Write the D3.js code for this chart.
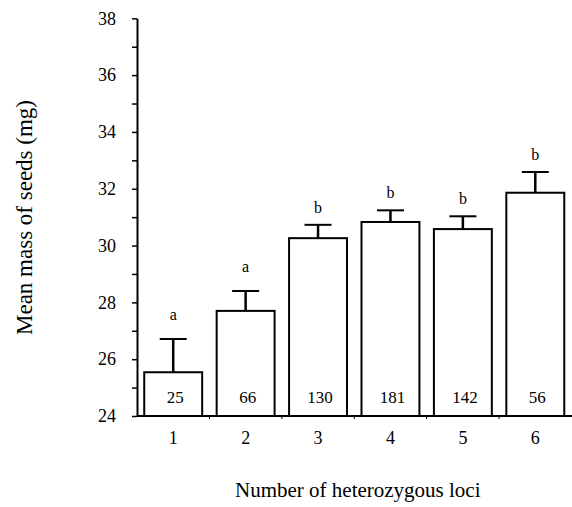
<!DOCTYPE html>
<html>
<head>
<meta charset="utf-8">
<script src="https://cdn.jsdelivr.net/npm/d3@7"></script>
<style>
  body { margin: 0; background: #fff; }
  svg text { font-family: "Liberation Serif", "Times New Roman", serif; fill: #000; }
</style>
</head>
<body>
<div id="chart"></div>
<script>
"use strict";

// number of heterozygous loci
var categories = ["1", "2", "3", "4", "5", "6"];
// mean seed mass (mg) and upper error bar length
var means = [25.54, 27.70, 30.26, 30.83, 30.58, 31.86];
var errors = [1.17, 0.70, 0.47, 0.41, 0.45, 0.73];
// sample sizes printed in bars
var counts = [25, 66, 130, 181, 142, 56];
// significance groups
var groups = ["a", "a", "b", "b", "b", "b"];
var yTicks = d3.range(24, 39, 1);

var width = 572;
var height = 507;
var plotLeft = 137, plotRight = 571.5, plotTop = 18.3, plotBottom = 416;
var letterGap = { "a": 19, "b": 12 };

var data = categories.map(function (c, i) {
  return { cat: c, mean: means[i], err: errors[i], n: counts[i], grp: groups[i] };
});

var svg = d3.select("#chart").append("svg")
  .attr("width", width)
  .attr("height", height);

var x = d3.scaleBand().domain(categories).range([plotLeft, plotRight]).paddingInner(0.2).paddingOuter(0.1);
var y = d3.scaleLinear().domain([24, 38]).range([plotBottom, plotTop]);

// y axis
var gY = svg.append("g")
  .attr("transform", "translate(" + plotLeft + ",0)")
  .call(d3.axisLeft(y).tickValues(yTicks).tickSize(5).tickSizeOuter(0).tickPadding(16)
    .tickFormat(function (d) { return d % 2 === 0 ? d : ""; }));
gY.select(".domain").attr("stroke", "#000").attr("stroke-width", 2);
gY.selectAll(".tick line").attr("stroke", "#000").attr("stroke-width", 1.5);
gY.selectAll(".tick text").style("font-size", "18px").style("font-family", "Liberation Serif, serif");

// x axis labels (no tick marks under bars)
var gX = svg.append("g")
  .attr("transform", "translate(0," + plotBottom + ")")
  .call(d3.axisBottom(x).tickSize(0).tickPadding(15));
gX.select(".domain").remove();
gX.selectAll(".tick text").style("font-size", "18px").style("font-family", "Liberation Serif, serif");

// small marks between bars
var bounds = categories.slice(1).map(function (c) { return x(c) - x.step() * x.paddingInner() / 2; });
svg.selectAll(".sep").data(bounds).enter().append("line")
  .attr("class", "sep")
  .attr("x1", function (d) { return d; }).attr("x2", function (d) { return d; })
  .attr("y1", plotBottom).attr("y2", plotBottom + 3)
  .attr("stroke", "#000").attr("stroke-width", 1);

// bars
svg.selectAll(".bar").data(data).enter().append("rect")
  .attr("class", "bar")
  .attr("x", function (d) { return x(d.cat); })
  .attr("y", function (d) { return y(d.mean); })
  .attr("width", x.bandwidth())
  .attr("height", function (d) { return y(24) - y(d.mean); })
  .attr("fill", "#fff")
  .attr("stroke", "#000")
  .attr("stroke-width", 2);

// x axis line drawn over bar bottoms
svg.append("line")
  .attr("x1", plotLeft).attr("x2", 572)
  .attr("y1", plotBottom).attr("y2", plotBottom)
  .attr("stroke", "#000").attr("stroke-width", 2);

// error bars
var eb = svg.selectAll(".err").data(data).enter().append("g").attr("class", "err");
eb.append("line")
  .attr("x1", function (d) { return x(d.cat) + x.bandwidth() / 2; })
  .attr("x2", function (d) { return x(d.cat) + x.bandwidth() / 2; })
  .attr("y1", function (d) { return y(d.mean); })
  .attr("y2", function (d) { return y(d.mean + d.err); })
  .attr("stroke", "#000").attr("stroke-width", 2.5);
eb.append("line")
  .attr("x1", function (d) { return x(d.cat) + x.bandwidth() / 2 - 13.5; })
  .attr("x2", function (d) { return x(d.cat) + x.bandwidth() / 2 + 13.5; })
  .attr("y1", function (d) { return y(d.mean + d.err); })
  .attr("y2", function (d) { return y(d.mean + d.err); })
  .attr("stroke", "#000").attr("stroke-width", 2);

// group letters
svg.selectAll(".grp").data(data).enter().append("text")
  .attr("class", "grp")
  .attr("x", function (d) { return x(d.cat) + x.bandwidth() / 2; })
  .attr("y", function (d) { return y(d.mean + d.err) - letterGap[d.grp]; })
  .attr("text-anchor", "middle")
  .style("font-size", "16px")
  .text(function (d) { return d.grp; });

// sample sizes
svg.selectAll(".n").data(data).enter().append("text")
  .attr("class", "n")
  .attr("x", function (d) { return x(d.cat) + x.bandwidth() / 2 + 2; })
  .attr("y", plotBottom - 13)
  .attr("text-anchor", "middle")
  .style("font-size", "17px")
  .text(function (d) { return d.n; });

// axis titles
svg.append("text")
  .attr("transform", "translate(32," + ((92 + 343) / 2) + ") rotate(-90)")
  .attr("text-anchor", "middle")
  .style("font-size", "23px")
  .text("Mean mass of seeds (mg)");

svg.append("text")
  .attr("x", 235)
  .attr("y", 497)
  .style("font-size", "21px")
  .text("Number of heterozygous loci");
</script>
</body>
</html>
